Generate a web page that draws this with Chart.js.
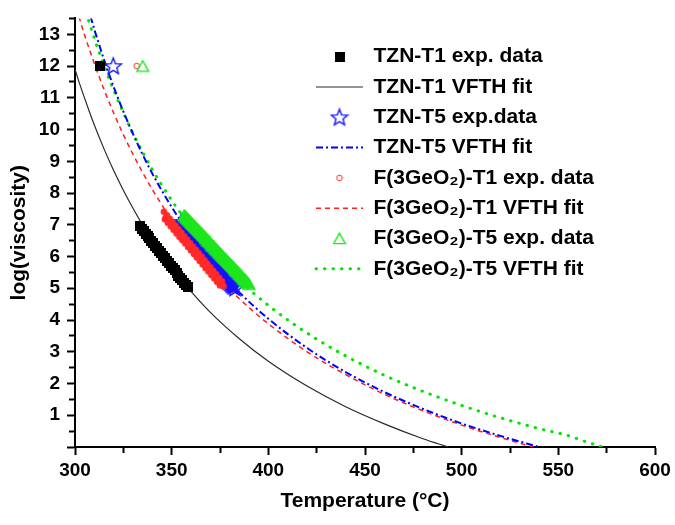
<!DOCTYPE html>
<html><head><meta charset="utf-8">
<script src="https://cdn.jsdelivr.net/npm/chart.js@4.4.1/dist/chart.umd.min.js"></script>
<style>html,body{margin:0;padding:0;background:#fff;}#wrap{width:675px;height:525px;}</style>
</head><body><div id="wrap"><canvas id="c" width="675" height="525"></canvas></div>
<script>
// ---------- data ----------
const seriesLabels = [
  'TZN-T1 exp. data', 'TZN-T1 VFTH fit',
  'TZN-T5 exp.data', 'TZN-T5 VFTH fit',
  'F(3GeO\u2082)-T1 exp. data', 'F(3GeO\u2082)-T1 VFTH fit',
  'F(3GeO\u2082)-T5 exp. data', 'F(3GeO\u2082)-T5 VFTH fit'
];
const xTickLabels = [300, 350, 400, 450, 500, 550, 600];
const yTickLabels = [1,2,3,4,5,6,7,8,9,10,11,12,13];

// TZN-T1 experimental
const tzn1ExpT = [312.9, 333.6,334.5,335.5,336.5,337.5,338.5,339.5,340.5,341.5,342.5,343.5,344.5,345.5,346.5,347.5,348.5,349.5,350.5,351.5,352.5,353.5,354.5,355.5,356.5,357.5,358.2];
const tzn1ExpV = [12.0, 6.95,6.88,6.80,6.72,6.65,6.57,6.49,6.41,6.34,6.26,6.18,6.10,6.02,5.94,5.87,5.79,5.71,5.63,5.56,5.48,5.40,5.33,5.25,5.17,5.09,5.03];
// TZN-T1 fit
const tzn1FitT = [300,302.5,305,307.5,310,315,320,325,330,335,340,350,360,370,385,400,420,440,460,480,493];
const tzn1FitV = [11.90,11.42,10.98,10.55,10.14,9.39,8.71,8.09,7.52,6.99,6.51,5.65,4.90,4.24,3.41,2.70,1.92,1.27,0.73,0.26,0.00];

// TZN-T5 experimental
const tzn5ExpT = [319.8, 355,355.5,356,356.5,357,357.5,358,358.5,359,359.5,360,360.5,361,361.5,362,362.5,363,363.5,364,364.5,365,365.5,366,366.5,367,367.5,368,368.5,369,369.5,370,370.5,371,371.5,372,372.5,373,373.5,374,374.5,375,375.5,376,376.5,377,377.5,378,378.5,379,379.5,380,380.5,381,381.5,382,382.8];
const tzn5ExpV = [12.0, 7.09,7.05,7.00,6.96,6.92,6.87,6.83,6.78,6.74,6.70,6.66,6.62,6.57,6.53,6.49,6.45,6.41,6.37,6.33,6.29,6.25,6.21,6.17,6.14,6.10,6.06,6.02,5.98,5.95,5.91,5.87,5.84,5.80,5.76,5.73,5.69,5.66,5.62,5.59,5.55,5.52,5.48,5.45,5.42,5.38,5.35,5.32,5.28,5.25,5.22,5.18,5.15,5.12,5.09,5.06,5.01];
// TZN-T5 fit
const tzn5FitT = [308,310,312.5,315,317.5,320,325,330,335,340,350,360,370,385,400,420,440,460,480,500,520,540];
const tzn5FitV = [13.57,13.15,12.67,12.20,11.76,11.34,10.57,9.86,9.21,8.61,7.56,6.66,5.87,4.87,4.04,3.12,2.36,1.73,1.20,0.74,0.35,0.00];

// F(3GeO2)-T1 experimental
const ge1ExpT = [331.9, 346,346.5,347,347.5,348,348.5,349,349.5,350,350.5,351,351.5,352,352.5,353,353.5,354,354.5,355,355.5,356,356.5,357,357.5,358,358.5,359,359.5,360,360.5,361,361.5,362,362.5,363,363.5,364,364.5,365,365.5,366,366.5,367,367.5,368,368.5,369,369.5,370,370.5,371,371.5,372,372.5,373,373.5,374,374.5,375,375.5,376,376.5,377];
const ge1ExpV = [12.0, 7.41,7.17,7.23,7.30,7.06,7.13,7.19,6.95,7.02,7.08,6.84,6.91,6.97,6.73,6.80,6.86,6.62,6.69,6.75,6.52,6.58,6.64,6.41,6.47,6.53,6.30,6.36,6.42,6.19,6.25,6.31,6.08,6.14,6.21,5.97,6.03,6.10,5.86,5.92,5.99,5.75,5.81,5.88,5.64,5.70,5.77,5.53,5.59,5.66,5.42,5.49,5.55,5.31,5.38,5.44,5.20,5.27,5.33,5.09,5.16,5.22,5.08,5.05];
// F(3GeO2)-T1 fit
const ge1FitT = [302,305,307.5,310,312.5,315,320,325,330,335,340,350,360,370,385,400,420,440,460,480,500,520,537];
const ge1FitV = [13.56,12.97,12.51,12.08,11.66,11.26,10.52,9.84,9.22,8.64,8.11,7.16,6.33,5.61,4.67,3.88,3.00,2.28,1.66,1.14,0.69,0.30,0.00];

// F(3GeO2)-T5 experimental
const ge5ExpT = [335.0, 356.5,357,357.5,358,358.5,359,359.5,360,360.5,361,361.5,362,362.5,363,363.5,364,364.5,365,365.5,366,366.5,367,367.5,368,368.5,369,369.5,370,370.5,371,371.5,372,372.5,373,373.5,374,374.5,375,375.5,376,376.5,377,377.5,378,378.5,379,379.5,380,380.5,381,381.5,382,382.5,383,383.5,384,384.5,385,385.5,386,386.5,387,387.5,388,388.5,389,389.5,390];
const ge5ExpV = [12.0, 7.30,7.27,7.24,7.20,7.17,7.14,7.11,7.07,7.04,7.01,6.98,6.94,6.91,6.88,6.85,6.81,6.78,6.75,6.72,6.68,6.65,6.62,6.59,6.56,6.52,6.49,6.46,6.43,6.39,6.36,6.33,6.30,6.26,6.23,6.20,6.17,6.13,6.10,6.07,6.04,6.00,5.97,5.94,5.91,5.87,5.84,5.81,5.78,5.75,5.71,5.68,5.65,5.62,5.58,5.55,5.52,5.49,5.45,5.42,5.39,5.36,5.32,5.29,5.26,5.23,5.19,5.16,5.13];
// F(3GeO2)-T5 fit
const ge5FitT = [307,310,312.5,315,317.5,320,325,330,335,340,350,360,370,385,400,420,440,460,480,500,520,540,555,565,573];
const ge5FitV = [13.43,12.87,12.43,12.02,11.62,11.24,10.53,9.88,9.29,8.74,7.77,6.93,6.19,5.25,4.46,3.59,2.87,2.26,1.75,1.31,0.92,0.58,0.36,0.15,0.00];

// ---------- helpers ----------
const pts = (xs, ys) => xs.map((x, i) => ({x, y: ys[i]}));

function marker(kind, filled) {
  const c = document.createElement('canvas');
  const g = c.getContext('2d');
  if (kind === 'square') {
    c.width = 10; c.height = 10;
    g.fillStyle = '#000'; g.fillRect(0, 0, 10, 10);
  } else if (kind === 'star') {
    c.width = 20; c.height = 20;
    g.strokeStyle = '#1414ff'; g.fillStyle = '#1414ff'; g.lineWidth = 1.4; g.lineJoin = 'miter';
    g.beginPath();
    for (let i = 0; i < 10; i++) {
      const a = -Math.PI / 2 + i * Math.PI / 5;
      const r = i % 2 ? 3.7 : 8.6;
      const px = 10 + r * Math.cos(a), py = 10.6 + r * Math.sin(a);
      if (i === 0) g.moveTo(px, py); else g.lineTo(px, py);
    }
    g.closePath(); if (filled) g.fill(); g.stroke();
  } else if (kind === 'circle') {
    c.width = 8; c.height = 8;
    g.strokeStyle = '#ff3030'; g.fillStyle = '#ff2a2a'; g.lineWidth = 1;
    g.beginPath(); g.arc(4, 4, filled ? 3.3 : 2.8, 0, Math.PI * 2);
    if (filled) g.fill(); else g.stroke();
  } else if (kind === 'triangle') {
    c.width = 14; c.height = 13;
    g.strokeStyle = '#1ee61e'; g.fillStyle = '#1ee61e'; g.lineWidth = 1.4;
    g.beginPath(); g.moveTo(7, 1.2); g.lineTo(12.8, 11.6); g.lineTo(1.2, 11.6); g.closePath();
    if (filled) g.fill(); g.stroke();
  }
  return c;
}

const FONT = '"Liberation Sans", Arial, Helvetica, sans-serif';
Chart.defaults.font.family = FONT;
Chart.defaults.color = '#000';

function expSet(label, xs, ys, kind, order) {
  const open = marker(kind, false), solid = marker(kind, true);
  const last = xs.length - 1;
  return { label, data: pts(xs, ys),
           pointStyle: ctx => (ctx.dataIndex === 0 || ctx.dataIndex === last) ? open : solid,
           pointRadius: 5, pointHoverRadius: 5, showLine: false, order,
           backgroundColor: 'rgba(0,0,0,0)', borderColor: 'rgba(0,0,0,0)' };
}
function fitSet(label, xs, ys, color, width, dash, cap, order) {
  return { label, data: pts(xs, ys), showLine: true, pointRadius: 0, pointHoverRadius: 0,
           borderColor: color, backgroundColor: color, borderWidth: width,
           borderDash: dash, borderCapStyle: cap, cubicInterpolationMode: 'monotone',
           fill: false, order, legendLine: true };
}

// lower order = drawn on top
const datasets = [
  expSet(seriesLabels[0], tzn1ExpT, tzn1ExpV, 'square', 0),
  fitSet(seriesLabels[1], tzn1FitT, tzn1FitV, '#2a2a2a', 1.2, [], 'butt', 4),
  expSet(seriesLabels[2], tzn5ExpT, tzn5ExpV, 'star', 3),
  fitSet(seriesLabels[3], tzn5FitT, tzn5FitV, '#0000ff', 2, [7, 3, 2, 3], 'butt', 5),
  expSet(seriesLabels[4], ge1ExpT, ge1ExpV, 'circle', 2),
  fitSet(seriesLabels[5], ge1FitT, ge1FitV, '#ff1f1f', 1.5, [5, 4], 'butt', 6),
  expSet(seriesLabels[6], ge5ExpT, ge5ExpV, 'triangle', 1),
  fitSet(seriesLabels[7], ge5FitT, ge5FitV, '#00e600', 3, [0.5, 8], 'round', 7)
];

const legendPlace = {
  id: 'legendPlace',
  afterLayout(chart) {
    const lg = chart.legend;
    if (!lg) return;
    const w = lg.width;
    lg.left = 306.7; lg.right = lg.left + w;
    lg.top = 36.9; lg.bottom = chart.chartArea.bottom;
  }
};

new Chart(document.getElementById('c'), {
  type: 'scatter',
  data: { datasets },
  plugins: [legendPlace],
  options: {
    responsive: false, animation: false, events: [],
    layout: { padding: { top: 12, right: 20, left: 0, bottom: 0 } },
    plugins: {
      tooltip: { enabled: false },
      legend: {
        position: 'chartArea', align: 'start',
        labels: {
          usePointStyle: true, pointStyleWidth: 47, padding: 9.3,
          color: '#000', font: { family: FONT, size: 21, weight: 'bold' },
          sort: (a, b) => a.datasetIndex - b.datasetIndex,
          generateLabels(chart) {
            const items = Chart.defaults.plugins.legend.labels.generateLabels(chart);
            items.forEach(it => {
              const ds = chart.data.datasets[it.datasetIndex];
              if (ds.legendLine) {
                it.pointStyle = 'line';
                it.lineDash = ds.borderDash;
                it.lineCap = ds.borderCapStyle;
                it.strokeStyle = ds.borderColor;
                it.lineWidth = ds.borderWidth;
              }
            });
            return items;
          }
        }
      }
    },
    scales: {
      x: {
        type: 'linear', min: 300, max: 600,
        afterFit(s) { s.height = 78; },
        ticks: {
          stepSize: 25, autoSkip: false, maxRotation: 0, padding: 4,
          font: { family: FONT, size: 19, weight: 'bold' }, color: '#000',
          callback: v => xTickLabels.includes(v) ? String(v) : ''
        },
        grid: {
          drawOnChartArea: false, drawTicks: true, tickLength: 8, tickWidth: 2, tickColor: '#000',
          tickBorderDash: ctx => (ctx.tick && ctx.tick.value % 50 !== 0) ? [5, 30] : []
        },
        border: { display: true, color: '#000', width: 2 },
        title: { display: true, text: 'Temperature (°C)', color: '#000',
                 font: { family: FONT, size: 21, weight: 'bold' }, padding: { top: 0, bottom: 11 } }
      },
      y: {
        type: 'linear', min: 0, max: 13.5,
        afterFit(s) { s.width = 75; },
        ticks: {
          stepSize: 0.5, autoSkip: false, padding: 7,
          font: { family: FONT, size: 19, weight: 'bold' }, color: '#000',
          callback: v => yTickLabels.includes(v) ? String(v) : ''
        },
        grid: {
          drawOnChartArea: false, drawTicks: true, tickLength: 8, tickWidth: 2, tickColor: '#000',
          tickBorderDash: ctx => (ctx.tick && !Number.isInteger(ctx.tick.value)) ? [5, 30] : [],
          tickBorderDashOffset: ctx => (ctx.tick && !Number.isInteger(ctx.tick.value)) ? 33 : 0
        },
        border: { display: true, color: '#000', width: 2 },
        title: { display: true, text: 'log(viscosity)', color: '#000',
                 font: { family: FONT, size: 21, weight: 'bold' }, padding: { top: 7, bottom: 0 } }
      }
    }
  }
});
</script>
</body></html>
